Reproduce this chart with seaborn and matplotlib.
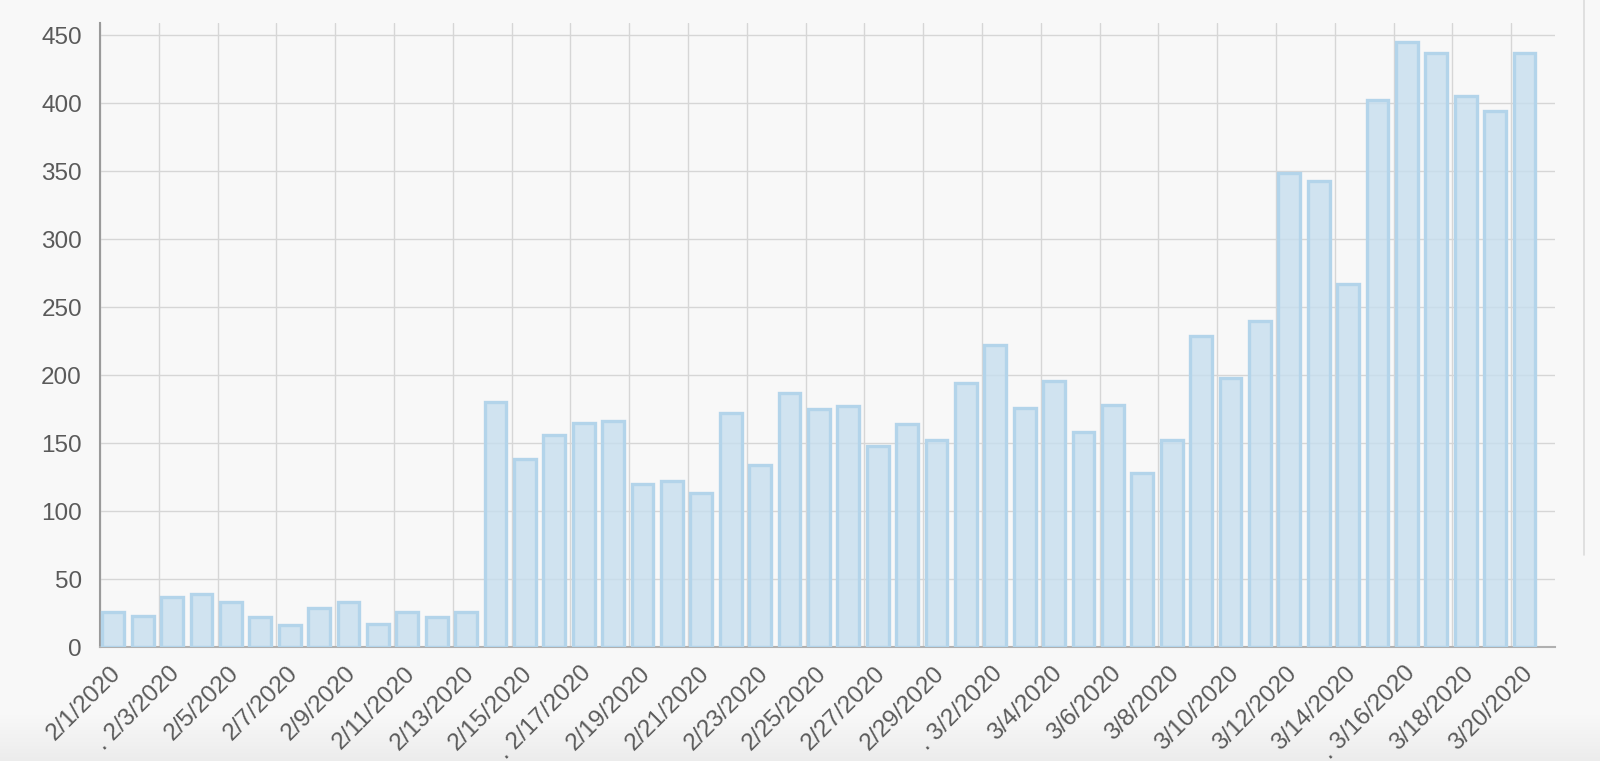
import numpy as np
import pandas as pd
import matplotlib
matplotlib.use("Agg")
import matplotlib.pyplot as plt
import matplotlib.transforms as mtransforms
from matplotlib.lines import Line2D
import seaborn as sns

# dane: dzienne wartosci 2/1/2020 - 3/20/2020
dates = [f"{d.month}/{d.day}/2020" for d in pd.date_range("2020-02-01", "2020-03-20")]
cases = [26, 23, 37, 39, 33, 22, 16, 29, 33, 17, 26, 22, 26,
         180, 138, 156, 165, 166, 120, 122, 113, 172, 134, 187, 175, 177, 148, 164, 152,
         194, 222, 176, 196, 158, 178, 128, 152, 229, 198, 240, 349, 343, 267, 402, 445,
         437, 405, 394, 437]
dotted_dates = ["2/3/2020", "2/17/2020", "3/2/2020", "3/16/2020"]
tick_dates = dates[::2]
tick_labels = [(". " + d) if d in dotted_dates else d for d in tick_dates]
y_ticks = [0, 50, 100, 150, 200, 250, 300, 350, 400, 450]

BG = "#f8f8f8"
GRID = "#d6d6d6"
AXIS = "#9a9a9a"
TEXT = "#5a5a5a"
FILL = (198 / 255, 222 / 255, 238 / 255, 0.8)
EDGE = "#b3d4ea"
OFF = 0.45  # przesuniecie slupka wzgledem znacznika daty

sns.set_theme(style="whitegrid")
plt.rcParams["font.family"] = ["Liberation Sans", "DejaVu Sans"]

fig = plt.figure(figsize=(16, 7.61), dpi=100, facecolor=BG)

# delikatny cien na dole obrazka
bg_ax = fig.add_axes([0, 0, 1, 0.06], zorder=-10)
grad = np.linspace(0, 1, 100).reshape(-1, 1)
bg_ax.imshow(grad, aspect="auto", cmap=matplotlib.colors.LinearSegmentedColormap.from_list(
    "shade", ["#ececec", BG]), origin="lower", extent=[0, 1, 0, 1])
bg_ax.axis("off")

ax = fig.add_axes([100 / 1600, 1 - 647 / 761, 1455 / 1600, (647 - 23) / 761])
ax.set_facecolor(BG)

sns.barplot(x=dates, y=cases, ax=ax, color=EDGE, width=0.74, saturation=1,
            edgecolor=EDGE, linewidth=2.4, zorder=3)
for p in ax.patches:
    p.set_facecolor(FILL)

ax.set_xlim(-OFF, 49.04)
ax.set_ylim(0, 459)
ax.set_yticks(y_ticks)
ax.set_xticks(np.arange(0, len(dates), 2) - OFF)
ax.set_xticklabels(tick_labels, rotation=45, ha="right", va="top", rotation_mode="anchor")

ax.grid(True, color=GRID, linewidth=1.0, zorder=0)
ax.set_axisbelow(True)
ax.tick_params(axis="both", colors=GRID, labelcolor=TEXT, labelsize=17.5, length=9, width=1.0)
ax.tick_params(axis="y", pad=4)
ax.tick_params(axis="x", pad=2)

# etykiety osi X lekko w prawo, jak w oryginale
offset = mtransforms.ScaledTranslation(10 / 100, 0 / 100, fig.dpi_scale_trans)
for lbl in ax.get_xticklabels():
    lbl.set_transform(lbl.get_transform() + offset)

for side in ["top", "right"]:
    ax.spines[side].set_visible(False)
ax.spines["left"].set_color(AXIS)
ax.spines["bottom"].set_color("#b0b0b0")
ax.spines["left"].set_linewidth(1.5)
ax.spines["bottom"].set_linewidth(1.5)
ax.set_xlabel("")
ax.set_ylabel("")

# pionowa linia panelu po prawej
fig.add_artist(Line2D([1584 / 1600, 1584 / 1600], [1 - 555 / 761, 1.0],
                      transform=fig.transFigure, color="#dcdcdc", linewidth=1.2))

plt.savefig("out.png", dpi=100, facecolor=BG)
plt.close()
